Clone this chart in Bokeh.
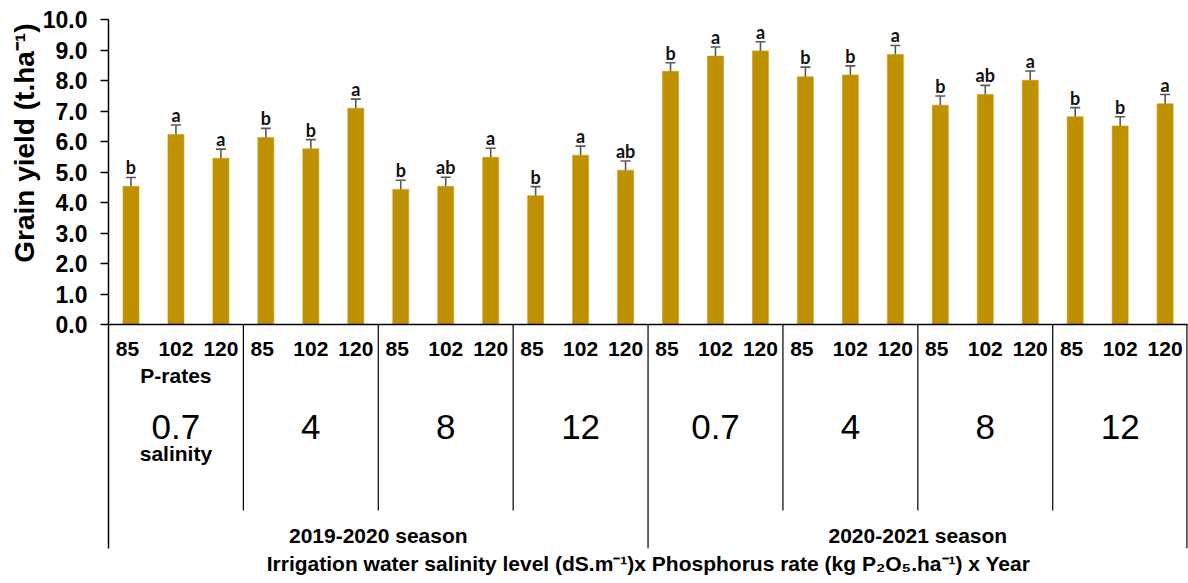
from bokeh.plotting import figure
from bokeh.models import (ColumnDataSource, Whisker, TeeHead, FixedTicker,
                          NumeralTickFormatter, Title, Range1d)
from bokeh.core.properties import value
from bokeh.embed import file_html
from bokeh.resources import INLINE

# ---- data -------------------------------------------------------------
seasons = ["2019-2020 season", "2020-2021 season"]
salinity_levels = ["0.7", "4", "8", "12"]
p_rates = ["85", "102", "120"]

yield_2019 = [4.53, 6.23, 5.45, 6.13, 5.76, 7.09,
              4.43, 4.53, 5.48, 4.22, 5.55, 5.06]
yield_2020 = [8.30, 8.80, 8.97, 8.12, 8.18, 8.85,
              7.19, 7.54, 8.01, 6.81, 6.51, 7.24]
se_2019 = [0.29, 0.31, 0.30, 0.30, 0.30, 0.30,
           0.30, 0.30, 0.30, 0.30, 0.30, 0.30]
se_2020 = [0.28, 0.30, 0.30, 0.32, 0.30, 0.30,
           0.30, 0.30, 0.30, 0.30, 0.30, 0.30]
letters_2019 = ["b", "a", "a", "b", "b", "a", "b", "ab", "a", "b", "a", "ab"]
letters_2020 = ["b", "a", "a", "b", "b", "a", "b", "ab", "a", "b", "b", "a"]

y_ticks = [0, 1, 2, 3, 4, 5, 6, 7, 8, 9, 10]

# ---- layout constants ------------------------------------------------
W, H = 1188, 583
LEFT, TOP, BOTTOM_PX = 108, 19, 548
Y0_PX = 324                      # pixel row of yield = 0
PX_PER_Y = (Y0_PX - TOP) / 10.0  # pixels per t/ha
Y_START = -(BOTTOM_PX - Y0_PX) / PX_PER_Y
X_END = 24.02


def y_of(px_row):
    """Convert a canvas pixel row into the y data coordinate."""
    return (Y0_PX - px_row) / PX_PER_Y


values = yield_2019 + yield_2020
errors = se_2019 + se_2020
letters = letters_2019 + letters_2020
n = len(values)
xs = [i + 0.5 for i in range(n)]

src = ColumnDataSource(dict(
    x=xs, top=values,
    upper=[v + e for v, e in zip(values, errors)],
    lower=[v - e for v, e in zip(values, errors)],
    letter=letters,
    letter_y=[v + e + 10 / PX_PER_Y for v, e in zip(values, errors)],
))

p = figure(width=W, height=H, output_backend="svg", toolbar_location=None,
           x_range=Range1d(0, X_END), y_range=Range1d(Y_START, 10),
           min_border_left=LEFT, min_border_right=0,
           min_border_top=TOP, min_border_bottom=H - BOTTOM_PX)
p.outline_line_color = None
p.grid.visible = False
p.xaxis.visible = False
p.background_fill_color = "white"
p.border_fill_color = "white"

# y axis: 0.0 .. 10.0, line continues down as the table's left border
yax = p.yaxis[0]
yax.ticker = FixedTicker(ticks=y_ticks)
yax.formatter = NumeralTickFormatter(format="0.0")
yax.major_label_text_font = "Liberation Sans"
yax.major_label_text_font_style = "bold"
yax.major_label_text_font_size = "23px"
yax.major_label_text_color = "black"
yax.major_label_standoff = 13
yax.major_tick_out = 8
yax.major_tick_in = 0
yax.minor_tick_line_color = None
yax.axis_line_color = "black"
yax.axis_line_width = 1.5
yax.major_tick_line_color = "black"
yax.major_tick_line_width = 1.5

# bars
p.vbar(x="x", top="top", bottom=0, width=0.356, source=src,
       fill_color="#BF9000", line_color="#C89E1A", line_width=0.6)

# error bars
whisk = Whisker(base="x", upper="upper", lower="lower", source=src,
                line_color="#595959", line_width=1.6,
                upper_head=TeeHead(size=10, line_color="#595959", line_width=1.6),
                lower_head=TeeHead(size=10, line_color="#595959", line_width=1.6))
p.add_layout(whisk)

# significance letters
p.text(x="x", y="letter_y", text="letter", source=src,
       text_font=value("Lato"), text_font_style="bold",
       text_font_size="18px", text_color="#111111",
       text_align="center", text_baseline="alphabetic")

# baseline of the bars
p.segment(x0=[0], y0=[0], x1=[24], y1=[0], line_color="black", line_width=1.5)

# table grid under the axis
group_sep = [3, 6, 9, 15, 18, 21]
p.segment(x0=group_sep, y0=[0] * len(group_sep), x1=group_sep,
          y1=[y_of(510)] * len(group_sep), line_color="black", line_width=1.2)
season_sep = [12, 23.985]
p.segment(x0=season_sep, y0=[0] * 2, x1=season_sep,
          y1=[Y_START] * 2, line_color="black", line_width=1.2)

# phosphorus-rate labels under every bar
rate_x = []
rate_txt = []
for i in range(n):
    shift = -0.08 if i % 3 == 0 else 0.0
    rate_x.append(i + 0.5 + shift)
    rate_txt.append(p_rates[i % 3])
p.text(x=rate_x, y=[y_of(348)] * n, text=rate_txt,
       text_font=value("Liberation Sans"), text_font_style="bold",
       text_font_size="21px", text_color="black",
       text_align="center", text_baseline="middle")

# salinity level in each group
sal_x = [g * 3 + 1.5 for g in range(8)]
sal_txt = salinity_levels * 2
p.text(x=sal_x, y=[y_of(426)] * 8, text=sal_txt,
       text_font=value("Liberation Sans"), text_font_size="35px",
       text_color="black", text_align="center", text_baseline="middle")

# row captions in the first group
p.text(x=[1.5, 1.5], y=[y_of(375), y_of(453)], text=["P-rates", "salinity"],
       text_font=value("Liberation Sans"), text_font_style="bold",
       text_font_size="21px", text_color="black",
       text_align="center", text_baseline="middle")

# season captions
p.text(x=[6, 18], y=[y_of(535)] * 2, text=seasons,
       text_font=value("Liberation Sans"), text_font_style="bold",
       text_font_size="21px", text_color="black",
       text_align="center", text_baseline="middle")

# axis titles
p.add_layout(Title(text="Grain yield (t.ha\u207b\u00b9)", align="right",
                   offset=4, standoff=0,
                   text_font="Liberation Sans", text_font_style="bold",
                   text_font_size="28px", text_color="black"), "left")
p.add_layout(Title(text="Irrigation water salinity level (dS.m\u207b\u00b9)x "
                        "Phosphorus rate (kg P\u2082O\u2085.ha\u207b\u00b9) x Year",
                   align="center", standoff=3,
                   text_font="Liberation Sans", text_font_style="bold",
                   text_font_size="21px", text_color="black"), "below")

open("out.html", "w").write(file_html(p, INLINE))
